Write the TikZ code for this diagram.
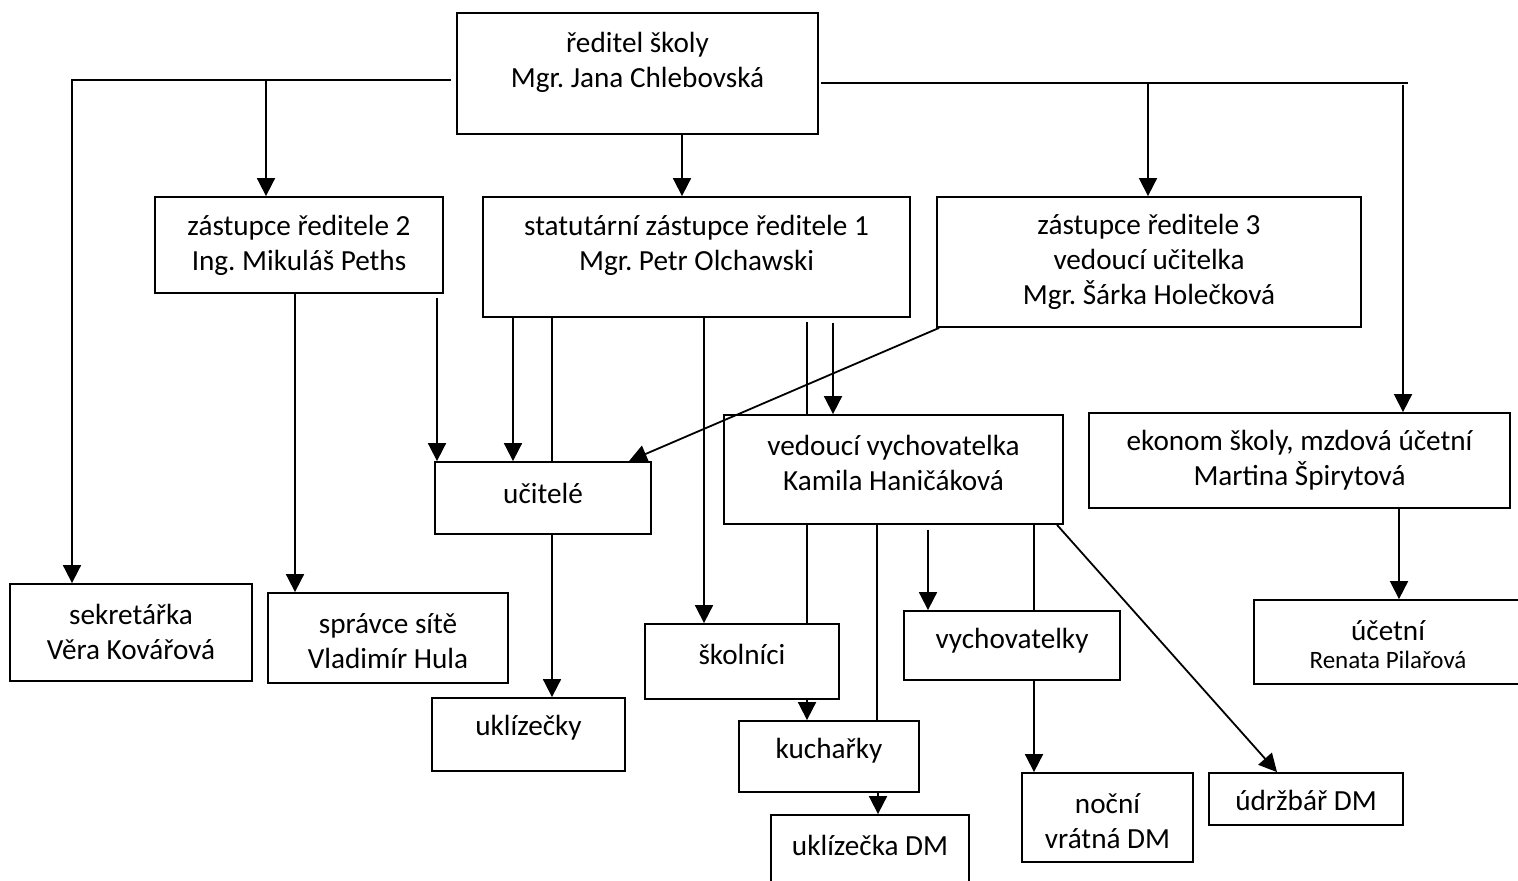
\documentclass[tikz,border=0pt]{standalone}
\usepackage{fontspec}
\setmainfont{Carlito}
\usetikzlibrary{arrows.meta}
\frenchspacing
\begin{document}
\begin{tikzpicture}[x=0.5pt,y=-0.5pt,
  box/.style={draw,line width=0.9pt,rectangle,inner sep=0pt},
  txt/.style={align=center,inner sep=0pt,font=\fontsize{14.6}{17.5}\selectfont},
  ln/.style={line width=0.9pt},
  arr/.style={line width=0.9pt,-{Triangle[length=9pt,width=9pt]}}]
\clip (0,0) rectangle (1518,881);
\fill[white] (0,0) rectangle (1518,881);
% box macro: name, x1, y1, x2, y2
\newcommand{\orgbox}[5]{\node[box,minimum width={(#4-#2)*0.5pt},minimum height={(#5-#3)*0.5pt}] (#1) at ({(#2+#4)/2},{(#3+#5)/2}) {};}
\orgbox{dir}{457}{13}{818}{134}
\orgbox{z2}{155}{197}{443}{293}
\orgbox{st}{483}{197}{910}{317}
\orgbox{z3}{937}{197}{1361}{327}
\orgbox{ek}{1089}{413}{1510}{508}
\orgbox{ved}{724}{415}{1063}{524}
\orgbox{uc}{435}{462}{651}{534}
\orgbox{sek}{10}{584}{252}{681}
\orgbox{spr}{268}{593}{508}{683}
\orgbox{ukl}{432}{698}{625}{771}
\orgbox{sko}{645}{624}{839}{699}
\orgbox{vych}{904}{611}{1120}{680}
\orgbox{kuch}{739}{721}{919}{792}
\orgbox{ukdm}{771}{815}{969}{905}
\orgbox{noc}{1022}{773}{1193}{862}
\orgbox{udr}{1209}{773}{1403}{825}
\orgbox{uct}{1254}{600}{1530}{684}
% texts
\node[txt] (dir-t) at (637.5,62) {ředitel školy\\Mgr. Jana Chlebovská};
\node[txt] (z2-t) at (299,245) {zástupce ředitele 2\\Ing. Mikuláš Peths};
\node[txt] (st-t) at (696.5,245) {statutární zástupce ředitele 1\\Mgr. Petr Olchawski};
\node[txt] (z3-t) at (1149,262) {zástupce ředitele 3\\vedoucí učitelka\\Mgr. Šárka Holečková};
\node[txt] (ek-t) at (1299.5,460) {ekonom školy, mzdová účetní\\Martina Špirytová};
\node[txt] (ved-t) at (893.5,463) {vedoucí vychovatelka\\Kamila Haničáková};
\node[txt] (uc-t) at (543,493) {učitelé};
\node[txt] (sek-t) at (131,632) {sekretářka\\Věra Kovářová};
\node[txt] (spr-t) at (388,641) {správce sítě\\Vladimír Hula};
\node[txt] (ukl-t) at (528.5,728) {uklízečky};
\node[txt] (sko-t) at (742,654) {školníci};
\node[txt] (vych-t) at (1012,641) {vychovatelky};
\node[txt] (kuch-t) at (829,751) {kuchařky};
\node[txt] (ukdm-t) at (870,845) {uklízečka DM};
\node[txt] (noc-t) at (1107.5,821) {noční\\vrátná DM};
\node[txt] (udr-t) at (1306,800) {údržbář DM};
\node[txt,anchor=south] (uct-t) at (1388,641) {účetní};
\node[txt,anchor=north,font=\fontsize{12.5}{15}\selectfont] (uct-t2) at (1388,651) {Renata Pilařová};
% helper coordinates
\coordinate (hl) at (72,80);
\coordinate (h2) at (266,80);
\coordinate (hr) at (1408,83);
\coordinate (h3) at (1148,83);
\coordinate (h4) at (1403,85);
% director connectors
\draw[arr] ([xshift=-2.5pt]dir.west |- hl) -- (hl) -- (hl |- sek.north);
\draw[arr] (h2) -- (h2 |- z2.north);
\draw[arr] (dir.south -| 682,0) -- (st.north -| 682,0);
\draw[ln] ([xshift=1pt]dir.east |- hr) -- (hr);
\draw[arr] (h3) -- (h3 |- z3.north);
\draw[arr] (h4) -- (h4 |- ek.north);
% zastupce 2
\draw[arr] (z2.south -| 295,0) -- (spr.north -| 295,0);
\draw[arr] ([yshift=-2pt]z2.south -| 437,0) -- (uc.north -| 437,0);
% statutarni
\draw[arr] (st.south -| 513,0) -- (uc.north -| 513,0);
\draw[ln] (st.south -| 552,0) -- (uc.north -| 552,0);
\draw[arr] (uc.south -| 552,0) -- (ukl.north -| 552,0);
\draw[arr] (st.south -| 704,0) -- (sko.north -| 704,0);
\draw[ln] ([yshift=-2pt]st.south -| 807,0) -- (ved.north -| 807,0);
\draw[arr] ([yshift=-2.5pt]st.south -| 833,0) -- (ved.north -| 833,0);
% zastupce 3 to ucitele
\draw[arr] ([xshift=1.5pt]z3.south west) -- (uc.north -| 629,0);
% vedouci vychovatelka
\draw[ln] (ved.south -| 807,0) -- (sko.north -| 807,0);
\draw[ln] (ved.south -| 877,0) -- (kuch.north -| 877,0);
\draw[arr] ([yshift=-2.5pt]ved.south -| 928,0) -- (vych.north -| 928,0);
\draw[ln] (ved.south -| 1034,0) -- (vych.north -| 1034,0);
\draw[arr] (ved.south -| 1057,0) -- (udr.north -| 1277,0);
\draw[arr] (vych.south -| 1034,0) -- (noc.north -| 1034,0);
\draw[arr] (sko.south -| 807,0) -- (kuch.north -| 807,0);
\draw[arr] (kuch.south -| 878,0) -- (ukdm.north -| 878,0);
% ekonom
\draw[arr] (ek.south -| 1399,0) -- (uct.north -| 1399,0);
\end{tikzpicture}
\end{document}
